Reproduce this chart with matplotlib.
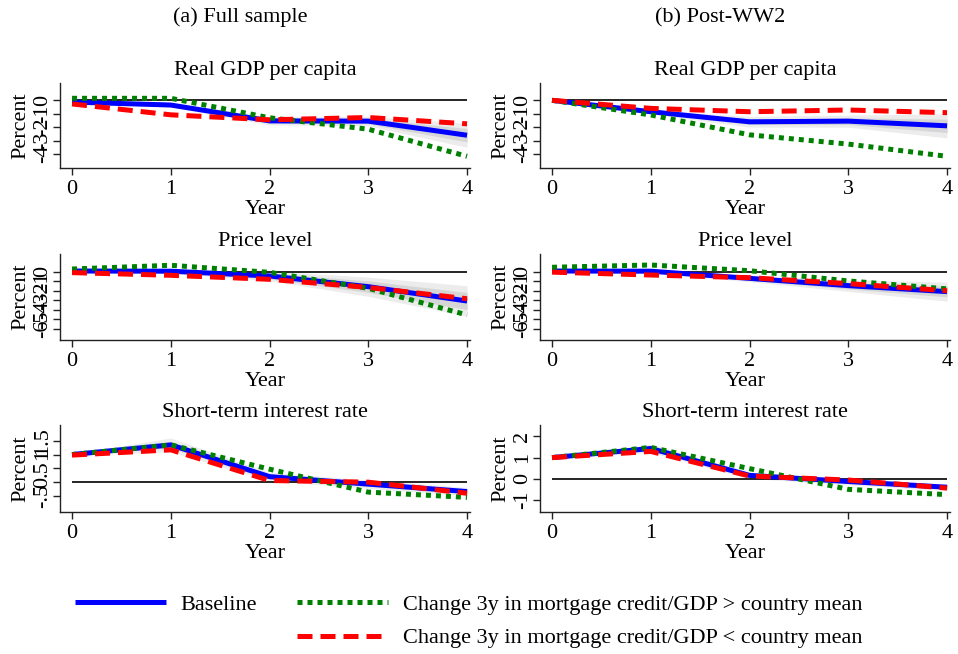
import matplotlib
matplotlib.use('Agg')
import matplotlib.pyplot as plt
from matplotlib.lines import Line2D
import numpy as np

plt.rcParams['font.family'] = ['Liberation Serif', 'DejaVu Serif']

years = [0, 1, 2, 3, 4]
col_titles = ['(a) Full sample', '(b) Post-WW2']
row_titles = ['Real GDP per capita', 'Price level', 'Short-term interest rate']
legend_labels = ['Baseline',
                 'Change 3y in mortgage credit/GDP > country mean',
                 'Change 3y in mortgage credit/GDP < country mean']

# ---- (a) Full sample ----
gdp_full_base = [-0.13, -0.35, -1.53, -1.55, -2.60]
gdp_full_high = [0.15, 0.15, -1.30, -2.15, -4.17]
gdp_full_low = [-0.27, -1.08, -1.45, -1.28, -1.75]
gdp_full_band_in = [0.03, 0.08, 0.18, 0.20, 0.50]
gdp_full_band_out = [0.05, 0.15, 0.30, 0.35, 0.90]

price_full_base = [0.07, 0.05, -0.45, -1.57, -3.07]
price_full_high = [0.28, 0.67, -0.07, -1.74, -4.53]
price_full_low = [-0.10, -0.38, -0.80, -1.65, -2.83]
price_full_band_in = [0.03, 0.10, 0.30, 0.60, 0.90]
price_full_band_out = [0.05, 0.20, 0.50, 1.00, 1.60]

rate_full_base = [1.00, 1.35, 0.20, -0.07, -0.34]
rate_full_high = [1.00, 1.35, 0.47, -0.36, -0.55]
rate_full_low = [0.98, 1.17, 0.06, 0.00, -0.40]
rate_full_band_in = [0.01, 0.12, 0.08, 0.08, 0.08]
rate_full_band_out = [0.02, 0.25, 0.15, 0.15, 0.15]

# ---- (b) Post-WW2 ----
gdp_post_base = [0.00, -0.85, -1.60, -1.55, -1.90]
gdp_post_high = [0.00, -1.09, -2.57, -3.26, -4.17]
gdp_post_low = [0.00, -0.60, -0.85, -0.72, -0.92]
gdp_post_band_in = [0.01, 0.08, 0.20, 0.25, 0.50]
gdp_post_band_out = [0.02, 0.15, 0.40, 0.45, 0.90]

price_post_base = [0.07, 0.05, -0.70, -1.46, -2.09]
price_post_high = [0.46, 0.70, 0.10, -0.97, -1.80]
price_post_low = [-0.05, -0.35, -0.63, -1.25, -2.00]
price_post_band_in = [0.03, 0.08, 0.20, 0.35, 0.55]
price_post_band_out = [0.05, 0.15, 0.35, 0.60, 1.00]

rate_post_base = [1.00, 1.43, 0.16, -0.13, -0.40]
rate_post_high = [1.00, 1.48, 0.48, -0.50, -0.75]
rate_post_low = [1.00, 1.29, 0.13, -0.06, -0.44]
rate_post_band_in = [0.01, 0.10, 0.07, 0.07, 0.07]
rate_post_band_out = [0.02, 0.20, 0.15, 0.15, 0.15]

yticks_gdp = [-4, -3, -2, -1, 0]
yticklabels_gdp = ['-4', '-3', '-2', '-1', '0']
yticks_price = [-6, -5, -4, -3, -2, -1, 0]
yticklabels_price = ['-6', '-5', '-4', '-3', '-2', '-1', '0']
yticks_rate_full = [-0.5, 0, 0.5, 1, 1.5]
yticklabels_rate_full = ['-.5', '0', '.5', '1', '1.5']
yticks_rate_post = [-1, 0, 1, 2]
yticklabels_rate_post = ['-1', '0', '1', '2']

panels = [
    [  # full sample column
        (gdp_full_base, gdp_full_high, gdp_full_low, gdp_full_band_in, gdp_full_band_out,
         yticks_gdp, yticklabels_gdp, (-5.04, 1.29)),
        (price_full_base, price_full_high, price_full_low, price_full_band_in, price_full_band_out,
         yticks_price, yticklabels_price, (-7.15, 1.85)),
        (rate_full_base, rate_full_high, rate_full_low, rate_full_band_in, rate_full_band_out,
         yticks_rate_full, yticklabels_rate_full, (-1.08, 2.07)),
    ],
    [  # post-WW2 column
        (gdp_post_base, gdp_post_high, gdp_post_low, gdp_post_band_in, gdp_post_band_out,
         yticks_gdp, yticklabels_gdp, (-5.04, 1.29)),
        (price_post_base, price_post_high, price_post_low, price_post_band_in, price_post_band_out,
         yticks_price, yticklabels_price, (-7.15, 1.85)),
        (rate_post_base, rate_post_high, rate_post_low, rate_post_band_in, rate_post_band_out,
         yticks_rate_post, yticklabels_rate_post, (-1.57, 2.54)),
    ],
]

W, H = 958, 654
fig = plt.figure(figsize=(W / 100, H / 100), dpi=100)

col_left = [60, 540]
col_width = 410
row_top = [83, 254, 425]
row_bottom = [168, 340, 512]

FS = 16
BLUE = '#0000ff'
GREEN = '#008000'
RED = '#ff0000'
LW = 3.6

for c in range(2):
    for r in range(3):
        base, high, low, b_in, b_out, yt, ytl, ylim = panels[c][r]
        left = col_left[c] / W
        bottom = 1 - row_bottom[r] / H
        height = (row_bottom[r] - row_top[r]) / H
        ax = fig.add_axes([left, bottom, col_width / W, height])
        x = np.array(years)
        bb = np.array(base)
        ax.fill_between(x, bb - np.array(b_out), bb + np.array(b_out),
                        color='#ececec', lw=0, zorder=1)
        ax.fill_between(x, bb - np.array(b_in), bb + np.array(b_in),
                        color='#d6d6d6', lw=0, zorder=1.5)
        ax.hlines(0, years[0], years[-1], color='black', lw=1.2, zorder=2)
        ax.plot(x, base, color=BLUE, lw=LW, solid_capstyle='butt', zorder=3)
        ax.plot(x, high, color=GREEN, lw=LW, linestyle=(0, (1, 1)),
                dash_capstyle='butt', zorder=4)
        ax.plot(x, low, color=RED, lw=LW, linestyle=(0, (3, 1.6)),
                dash_capstyle='butt', zorder=5)
        ax.set_xlim(-0.122, 4.03)
        ax.set_ylim(*ylim)
        ax.set_xticks(years)
        ax.set_xticklabels([str(v) for v in years])
        ax.set_yticks(yt)
        ax.set_yticklabels(ytl)
        for s in ['top', 'right']:
            ax.spines[s].set_visible(False)
        for s in ['left', 'bottom']:
            ax.spines[s].set_color('#222222')
            ax.spines[s].set_linewidth(1.0)
        ax.tick_params(axis='both', direction='out', length=5, width=1.0,
                       color='#222222', labelsize=FS, pad=3.5)
        ax.tick_params(axis='y', labelrotation=90, pad=1)
        for lab in ax.get_yticklabels():
            lab.set_va('center')
        ax.set_xlabel('Year', fontsize=FS, labelpad=1)
        ax.set_ylabel('Percent', fontsize=FS, labelpad=2)
        ax.set_title(row_titles[r], fontsize=FS, pad=6)

for c in range(2):
    fig.text((240 + 480 * c) / W, 1 - 22 / H, col_titles[c], fontsize=FS,
             ha='center', va='baseline')

h_base = Line2D([], [], color=BLUE, lw=LW, solid_capstyle='butt')
h_blank = Line2D([], [], color='none', lw=0)
h_high = Line2D([], [], color=GREEN, lw=LW, linestyle=(0, (1, 1)), dash_capstyle='butt')
h_low = Line2D([], [], color=RED, lw=LW, linestyle=(0, (3, 1.6)), dash_capstyle='butt')
fig.legend([h_base, h_blank, h_high, h_low],
           [legend_labels[0], ' ', legend_labels[1], legend_labels[2]],
           ncol=2, loc='upper left', bbox_to_anchor=(75 / W, 1 - 594 / H),
           frameon=False, fontsize=FS, borderpad=0, borderaxespad=0,
           handlelength=4.1, handletextpad=0.65, columnspacing=1.8,
           labelspacing=0.6)

fig.savefig('out.png', dpi=100, facecolor='white')
